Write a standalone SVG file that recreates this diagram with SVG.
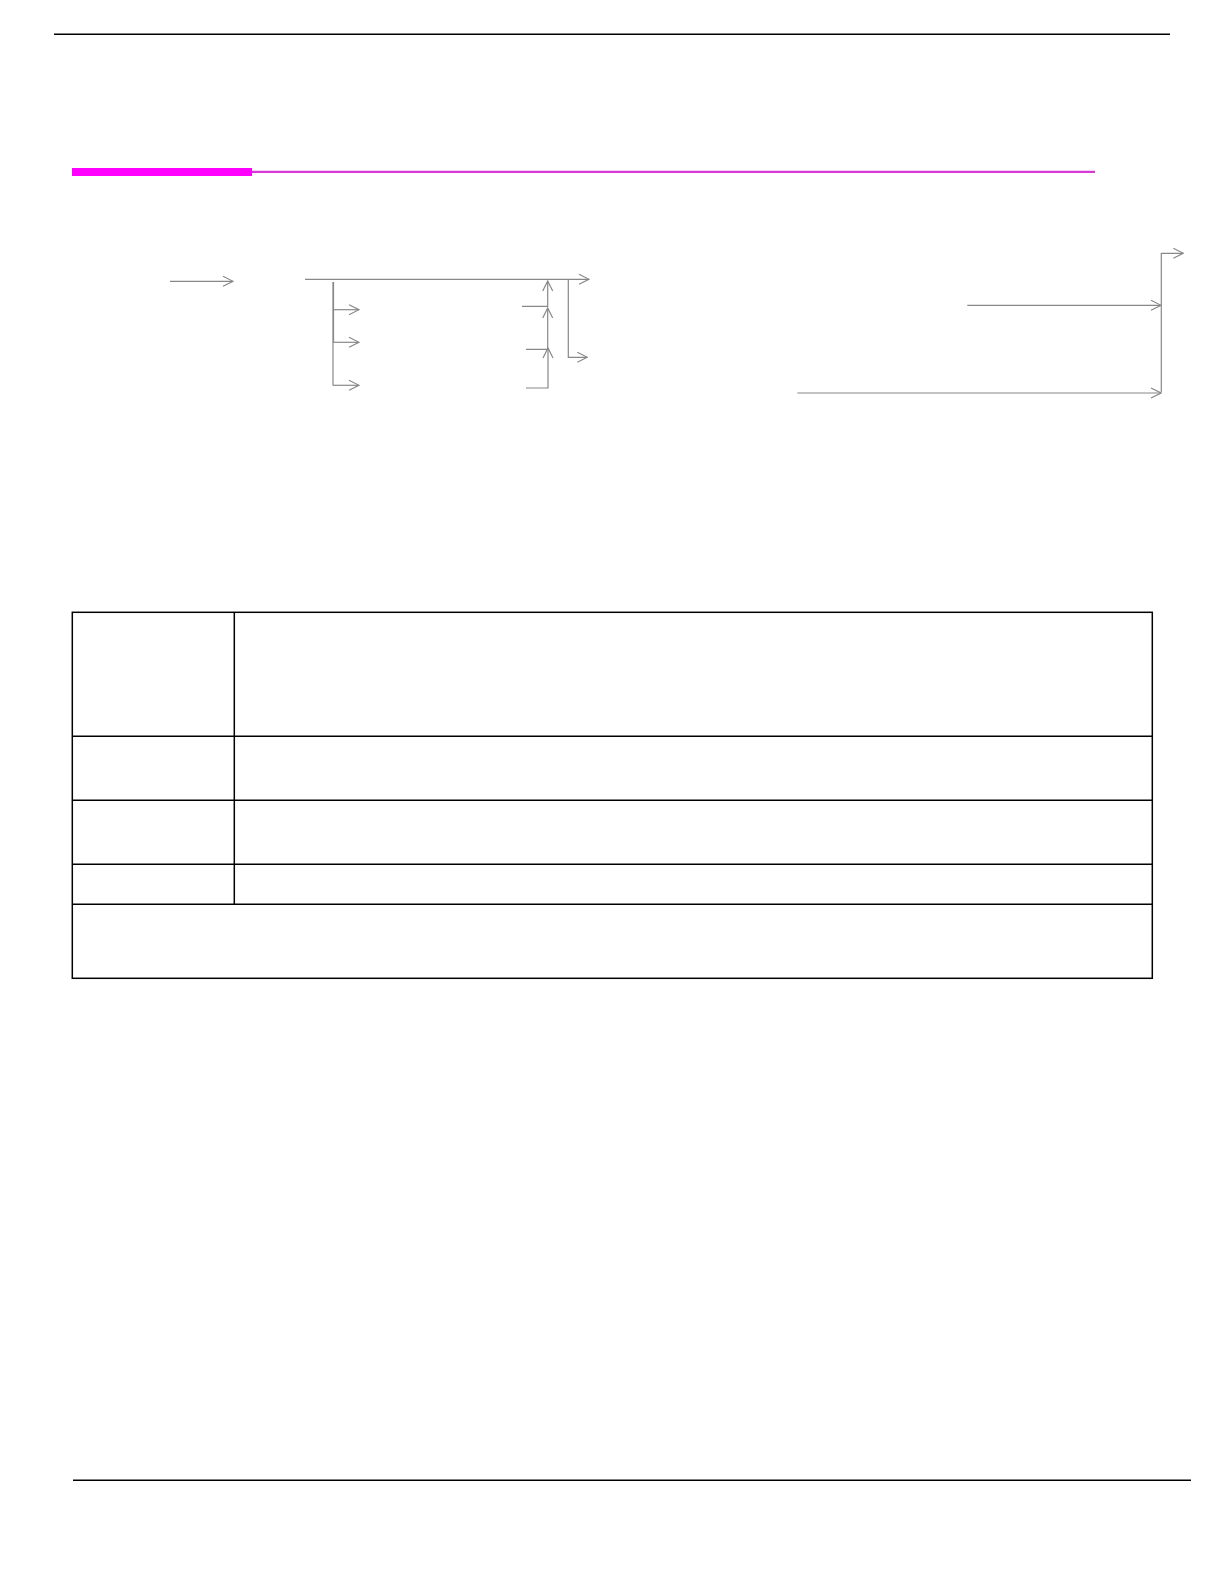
<svg xmlns="http://www.w3.org/2000/svg" width="1224" height="1582" viewBox="0 0 1224 1582">
<defs>
<style>
.rule{stroke:#000;stroke-width:1.5;fill:none}
.tbl{stroke:#000;stroke-width:1.5;fill:none}
.con{stroke:#888;stroke-width:1.2;fill:none}
</style>
<marker id="ah" viewBox="0 0 12 12" refX="11" refY="6" markerWidth="12" markerHeight="12" markerUnits="userSpaceOnUse" orient="auto">
<path d="M1,1 L11,6 L1,11" fill="none" stroke="#888" stroke-width="1.2"/>
</marker>
</defs>
<rect width="1224" height="1582" fill="#fff"/>
<g id="header">
<line class="rule" x1="54" y1="34.3" x2="1170" y2="34.3"/>
<rect x="72" y="168" width="180" height="8" fill="#f0f"/>
<line x1="252" y1="171.8" x2="1095" y2="171.8" stroke="#d63ad6" stroke-width="2.2"/>
</g>
<g id="connectors">
<line class="con" x1="170" y1="281.3" x2="233" y2="281.3" marker-end="url(#ah)"/>
<line class="con" x1="305" y1="279.3" x2="589" y2="279.3" marker-end="url(#ah)"/>
<line class="con" x1="333" y1="282" x2="333" y2="385.5"/>
<line class="con" x1="333.5" y1="282" x2="333.5" y2="342"/>
<line class="con" x1="333" y1="309.7" x2="359" y2="309.7" marker-end="url(#ah)"/>
<line class="con" x1="333" y1="342.3" x2="359" y2="342.3" marker-end="url(#ah)"/>
<line class="con" x1="333" y1="385.3" x2="359" y2="385.3" marker-end="url(#ah)"/>
<polyline class="con" points="522,306.3 547.7,306.3 547.7,281" marker-end="url(#ah)"/>
<polyline class="con" points="526,349.3 547.7,349.3 547.7,308" marker-end="url(#ah)"/>
<polyline class="con" points="526,388 548,388 548,348" marker-end="url(#ah)"/>
<polyline class="con" points="568.3,279.3 568.3,357.3 587.3,357.3" marker-end="url(#ah)"/>
<polyline class="con" points="1161.3,392.3 1161.3,253.3 1183.3,253.3" marker-end="url(#ah)"/>
<line class="con" x1="967.3" y1="305.3" x2="1161" y2="305.3" marker-end="url(#ah)"/>
<line class="con" x1="797.3" y1="393" x2="1161" y2="393" marker-end="url(#ah)"/>
</g>
<g id="table">
<rect class="tbl" x="72.3" y="612.3" width="1080" height="366"/>
<line class="tbl" x1="234.3" y1="612.3" x2="234.3" y2="904.3"/>
<line class="tbl" x1="72.3" y1="736.3" x2="1152.3" y2="736.3"/>
<line class="tbl" x1="72.3" y1="800.3" x2="1152.3" y2="800.3"/>
<line class="tbl" x1="72.3" y1="864.3" x2="1152.3" y2="864.3"/>
<line class="tbl" x1="72.3" y1="904.3" x2="1152.3" y2="904.3"/>
</g>
<g id="footer">
<line class="rule" x1="73" y1="1480.3" x2="1191" y2="1480.3"/>
</g>
</svg>
